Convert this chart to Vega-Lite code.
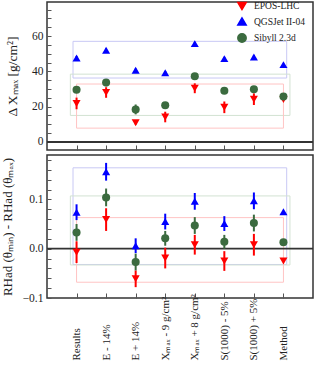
{
  "$schema": "https://vega.github.io/schema/vega-lite/v6.json",
  "padding": {"left": 0, "top": 0, "right": 2, "bottom": 0},
  "background": "white",
  "config": {
    "font": "Liberation Serif",
    "view": {"stroke": "#333333", "strokeWidth": 1.5},
    "axis": {"labelFont": "Liberation Serif", "titleFont": "Liberation Serif", "labelColor": "#222", "titleColor": "#222", "titleFontWeight": "normal", "grid": false, "domain": false, "tickColor": "#555", "tickWidth": 1, "labelOverlap": false, "labelFlush": false},
    "legend": {"labelFont": "Liberation Serif"},
    "concat": {"spacing": 1}
  },
  "datasets": {
    "top": [
      {"c": 0, "m": "EPOS-LHC", "v": 21.8, "e": 3.3},
      {"c": 1, "m": "EPOS-LHC", "v": 28.0, "e": 3.0},
      {"c": 2, "m": "EPOS-LHC", "v": 10.8, "e": 1.0},
      {"c": 3, "m": "EPOS-LHC", "v": 14.1, "e": 3.0},
      {"c": 4, "m": "EPOS-LHC", "v": 30.4, "e": 2.8},
      {"c": 5, "m": "EPOS-LHC", "v": 19.6, "e": 3.3},
      {"c": 6, "m": "EPOS-LHC", "v": 24.2, "e": 3.3},
      {"c": 7, "m": "EPOS-LHC", "v": 24.0, "e": 0},
      {"c": 0, "m": "QGSJet II-04", "v": 47.6, "e": 1.0},
      {"c": 1, "m": "QGSJet II-04", "v": 52.0, "e": 1.0},
      {"c": 2, "m": "QGSJet II-04", "v": 40.6, "e": 1.0},
      {"c": 3, "m": "QGSJet II-04", "v": 39.2, "e": 1.0},
      {"c": 4, "m": "QGSJet II-04", "v": 55.7, "e": 1.0},
      {"c": 5, "m": "QGSJet II-04", "v": 47.2, "e": 1.0},
      {"c": 6, "m": "QGSJet II-04", "v": 48.1, "e": 1.0},
      {"c": 7, "m": "QGSJet II-04", "v": 43.8, "e": 0},
      {"c": 0, "m": "Sibyll 2.3d", "v": 29.6, "e": 1.0},
      {"c": 1, "m": "Sibyll 2.3d", "v": 33.6, "e": 1.5},
      {"c": 2, "m": "Sibyll 2.3d", "v": 18.4, "e": 2.8},
      {"c": 3, "m": "Sibyll 2.3d", "v": 20.8, "e": 1.0},
      {"c": 4, "m": "Sibyll 2.3d", "v": 37.2, "e": 1.0},
      {"c": 5, "m": "Sibyll 2.3d", "v": 29.0, "e": 1.0},
      {"c": 6, "m": "Sibyll 2.3d", "v": 29.8, "e": 1.0},
      {"c": 7, "m": "Sibyll 2.3d", "v": 25.7, "e": 0}
    ],
    "bot": [
      {"c": 0, "m": "EPOS-LHC", "v": -0.007, "e": 0.022},
      {"c": 1, "m": "EPOS-LHC", "v": 0.059, "e": 0.023},
      {"c": 2, "m": "EPOS-LHC", "v": -0.061, "e": 0.017},
      {"c": 3, "m": "EPOS-LHC", "v": -0.019, "e": 0.021},
      {"c": 4, "m": "EPOS-LHC", "v": 0.008, "e": 0.02},
      {"c": 5, "m": "EPOS-LHC", "v": -0.025, "e": 0.02},
      {"c": 6, "m": "EPOS-LHC", "v": 0.008, "e": 0.022},
      {"c": 7, "m": "EPOS-LHC", "v": -0.025, "e": 0},
      {"c": 0, "m": "QGSJet II-04", "v": 0.074, "e": 0.016},
      {"c": 1, "m": "QGSJet II-04", "v": 0.156, "e": 0.018},
      {"c": 2, "m": "QGSJet II-04", "v": 0.006, "e": 0.015},
      {"c": 3, "m": "QGSJet II-04", "v": 0.055, "e": 0.016},
      {"c": 4, "m": "QGSJet II-04", "v": 0.096, "e": 0.017},
      {"c": 5, "m": "QGSJet II-04", "v": 0.051, "e": 0.015},
      {"c": 6, "m": "QGSJet II-04", "v": 0.097, "e": 0.017},
      {"c": 7, "m": "QGSJet II-04", "v": 0.075, "e": 0},
      {"c": 0, "m": "Sibyll 2.3d", "v": 0.033, "e": 0.017},
      {"c": 1, "m": "Sibyll 2.3d", "v": 0.104, "e": 0.018},
      {"c": 2, "m": "Sibyll 2.3d", "v": -0.027, "e": 0.017},
      {"c": 3, "m": "Sibyll 2.3d", "v": 0.021, "e": 0.015},
      {"c": 4, "m": "Sibyll 2.3d", "v": 0.047, "e": 0.017},
      {"c": 5, "m": "Sibyll 2.3d", "v": 0.014, "e": 0.014},
      {"c": 6, "m": "Sibyll 2.3d", "v": 0.052, "e": 0.017},
      {"c": 7, "m": "Sibyll 2.3d", "v": 0.013, "e": 0}
    ],
    "topBox": [
      {"m": "QGSJet II-04", "x0": -0.12, "x1": 7.11, "y0": 36.2, "y1": 57.0},
      {"m": "Sibyll 2.3d", "x0": -0.21, "x1": 7.22, "y0": 15.0, "y1": 38.4},
      {"m": "EPOS-LHC", "x0": 0, "x1": 7.0, "y0": 7.8, "y1": 32.8}
    ],
    "botBox": [
      {"m": "QGSJet II-04", "x0": -0.12, "x1": 7.11, "y0": -0.032, "y1": 0.164},
      {"m": "Sibyll 2.3d", "x0": -0.21, "x1": 7.22, "y0": -0.033, "y1": 0.107},
      {"m": "EPOS-LHC", "x0": 0, "x1": 7.0, "y0": -0.068, "y1": 0.063}
    ],
    "zero": [{"z": 0}]
  },
  "resolve": {"legend": {"color": "independent", "shape": "independent"}},
  "vconcat": [
    {
      "width": 266,
      "height": 148,
      "layer": [
        {
          "data": {"name": "topBox"},
          "mark": {"type": "rect", "filled": false, "strokeWidth": 1},
          "encoding": {
            "x": {"field": "x0", "type": "quantitative", "title": null, "scale": {"domain": [-0.88, 7.85]}, "axis": {"values": [0,1,2,3,4,5,6,7], "labels": false, "tickSize": -5, "ticks": true, "labelOverlap": false}},
            "x2": {"field": "x1"},
            "y": {"field": "y0", "type": "quantitative", "title": "Δ Xₘₐₓ [g/cm²]", "scale": {"domain": [-4.6, 79.3], "nice": false}, "axis": {"values": [0,5,10,15,20,25,30,35,40,45,50,55,60,65,70,75], "labelExpr": "datum.value % 20 == 0 ? datum.label : ''", "tickSize": -4, "ticks": true, "labelPadding": 8, "labelFontSize": 11.5, "titleFontSize": 13.5, "titlePadding": 12, "labelOverlap": false}},
            "y2": {"field": "y1"},
            "stroke": {"field": "m", "type": "nominal", "scale": {"domain": ["EPOS-LHC", "QGSJet II-04", "Sibyll 2.3d"], "range": ["#ffc4c4", "#c8c8f4", "#d2e2d2"]}, "legend": null}
          }
        },
        {
          "data": {"name": "zero"},
          "mark": {"type": "rule", "color": "#333333", "strokeWidth": 2},
          "encoding": {"y": {"field": "z", "type": "quantitative", "title": "Δ Xₘₐₓ [g/cm²]", "axis": {"values": [0,5,10,15,20,25,30,35,40,45,50,55,60,65,70,75], "labelExpr": "datum.value % 20 == 0 ? datum.label : ''", "tickSize": -4, "ticks": true, "labelPadding": 8, "labelFontSize": 11.5, "titleFontSize": 13.5, "titlePadding": 12, "labelOverlap": false}}}
        },
        {
          "data": {"name": "top"},
          "mark": {"type": "errorbar", "thickness": 2},
          "encoding": {
            "x": {"field": "c", "type": "quantitative", "title": null, "axis": {"values": [0,1,2,3,4,5,6,7], "labels": false, "tickSize": -5, "ticks": true, "labelOverlap": false}},
            "y": {"field": "v", "type": "quantitative", "title": "Δ Xₘₐₓ [g/cm²]", "axis": {"values": [0,5,10,15,20,25,30,35,40,45,50,55,60,65,70,75], "labelExpr": "datum.value % 20 == 0 ? datum.label : ''", "tickSize": -4, "ticks": true, "labelPadding": 8, "labelFontSize": 11.5, "titleFontSize": 13.5, "titlePadding": 12, "labelOverlap": false}},
            "yError": {"field": "e"},
            "color": {"field": "m", "type": "nominal", "scale": {"domain": ["EPOS-LHC", "QGSJet II-04", "Sibyll 2.3d"], "range": ["#ff0000", "#0000ff", "#3b6b3f"]}, "legend": {"title": null, "orient": "none", "legendX": 190, "legendY": -1, "labelFontSize": 9.5, "symbolSize": 70, "rowPadding": 1.5, "labelOffset": 7, "padding": 0, "labelColor": "#222"}}
          }
        },
        {
          "data": {"name": "top"},
          "mark": {"type": "point", "filled": true, "opacity": 1, "size": 65},
          "encoding": {
            "x": {"field": "c", "type": "quantitative", "title": null, "axis": {"values": [0,1,2,3,4,5,6,7], "labels": false, "tickSize": -5, "ticks": true, "labelOverlap": false}},
            "y": {"field": "v", "type": "quantitative", "title": "Δ Xₘₐₓ [g/cm²]", "axis": {"values": [0,5,10,15,20,25,30,35,40,45,50,55,60,65,70,75], "labelExpr": "datum.value % 20 == 0 ? datum.label : ''", "tickSize": -4, "ticks": true, "labelPadding": 8, "labelFontSize": 11.5, "titleFontSize": 13.5, "titlePadding": 12, "labelOverlap": false}},
            "color": {"field": "m", "type": "nominal", "scale": {"domain": ["EPOS-LHC", "QGSJet II-04", "Sibyll 2.3d"], "range": ["#ff0000", "#0000ff", "#3b6b3f"]}, "legend": {"title": null, "orient": "none", "legendX": 190, "legendY": -1, "labelFontSize": 9.5, "symbolSize": 70, "rowPadding": 1.5, "labelOffset": 7, "padding": 0, "labelColor": "#222"}},
            "shape": {"field": "m", "type": "nominal", "scale": {"domain": ["EPOS-LHC", "QGSJet II-04", "Sibyll 2.3d"], "range": ["triangle-down", "triangle-up", "circle"]}, "legend": {"title": null, "orient": "none", "legendX": 190, "legendY": -1, "labelFontSize": 9.5, "symbolSize": 70, "rowPadding": 1.5, "labelOffset": 7, "padding": 0, "labelColor": "#222"}}
          }
        }
      ]
    },
    {
      "width": 266,
      "height": 143,
      "layer": [
        {
          "data": {"name": "botBox"},
          "mark": {"type": "rect", "filled": false, "strokeWidth": 1},
          "encoding": {
            "x": {"field": "x0", "type": "quantitative", "title": null, "scale": {"domain": [-0.88, 7.85]}, "axis": {"values": [0,1,2,3,4,5,6,7], "labelExpr": "['Results','E - 14%','E + 14%','Xₘₐₓ - 9 g/cm²','Xₘₐₓ + 8 g/cm²','S(1000) - 5%','S(1000) + 5%','Method'][datum.value]", "labelAngle": 270, "labelAlign": "left", "labelBaseline": "middle", "labelPadding": 67, "labelFontSize": 11, "tickSize": -5, "ticks": true, "labelOverlap": false}},
            "x2": {"field": "x1"},
            "y": {"field": "y0", "type": "quantitative", "title": "RHad (θₘᵢₙ) - RHad (θₘₐₓ)", "scale": {"domain": [-0.1, 0.19], "nice": false, "zero": false}, "axis": {"values": [-0.1,-0.08,-0.06,-0.04,-0.02,0,0.02,0.04,0.06,0.08,0.1,0.12,0.14,0.16,0.18], "labelExpr": "abs(datum.value*10 - round(datum.value*10)) < 0.001 ? replace(format(datum.value, '.1f'), '-', '−') : ''", "tickSize": -4, "ticks": true, "labelPadding": 8, "labelFontSize": 11.5, "titleFontSize": 13, "titlePadding": 8, "labelOverlap": false}},
            "y2": {"field": "y1"},
            "stroke": {"field": "m", "type": "nominal", "scale": {"domain": ["EPOS-LHC", "QGSJet II-04", "Sibyll 2.3d"], "range": ["#ffc4c4", "#c8c8f4", "#d2e2d2"]}, "legend": null}
          }
        },
        {
          "data": {"name": "zero"},
          "mark": {"type": "rule", "color": "#333333", "strokeWidth": 1.8},
          "encoding": {"y": {"field": "z", "type": "quantitative", "title": "RHad (θₘᵢₙ) - RHad (θₘₐₓ)", "axis": {"values": [-0.1,-0.08,-0.06,-0.04,-0.02,0,0.02,0.04,0.06,0.08,0.1,0.12,0.14,0.16,0.18], "labelExpr": "abs(datum.value*10 - round(datum.value*10)) < 0.001 ? replace(format(datum.value, '.1f'), '-', '−') : ''", "tickSize": -4, "ticks": true, "labelPadding": 8, "labelFontSize": 11.5, "titleFontSize": 13, "titlePadding": 8, "labelOverlap": false}}}
        },
        {
          "data": {"name": "bot"},
          "mark": {"type": "errorbar", "thickness": 2},
          "encoding": {
            "x": {"field": "c", "type": "quantitative", "title": null, "axis": {"values": [0,1,2,3,4,5,6,7], "labelExpr": "['Results','E - 14%','E + 14%','Xₘₐₓ - 9 g/cm²','Xₘₐₓ + 8 g/cm²','S(1000) - 5%','S(1000) + 5%','Method'][datum.value]", "labelAngle": 270, "labelAlign": "left", "labelBaseline": "middle", "labelPadding": 67, "labelFontSize": 11, "tickSize": -5, "ticks": true, "labelOverlap": false}},
            "y": {"field": "v", "type": "quantitative", "title": "RHad (θₘᵢₙ) - RHad (θₘₐₓ)", "axis": {"values": [-0.1,-0.08,-0.06,-0.04,-0.02,0,0.02,0.04,0.06,0.08,0.1,0.12,0.14,0.16,0.18], "labelExpr": "abs(datum.value*10 - round(datum.value*10)) < 0.001 ? replace(format(datum.value, '.1f'), '-', '−') : ''", "tickSize": -4, "ticks": true, "labelPadding": 8, "labelFontSize": 11.5, "titleFontSize": 13, "titlePadding": 8, "labelOverlap": false}},
            "yError": {"field": "e"},
            "color": {"field": "m", "type": "nominal", "scale": {"domain": ["EPOS-LHC", "QGSJet II-04", "Sibyll 2.3d"], "range": ["#ff0000", "#0000ff", "#3b6b3f"]}, "legend": null}
          }
        },
        {
          "data": {"name": "bot"},
          "mark": {"type": "point", "filled": true, "opacity": 1, "size": 65},
          "encoding": {
            "x": {"field": "c", "type": "quantitative", "title": null, "axis": {"values": [0,1,2,3,4,5,6,7], "labelExpr": "['Results','E - 14%','E + 14%','Xₘₐₓ - 9 g/cm²','Xₘₐₓ + 8 g/cm²','S(1000) - 5%','S(1000) + 5%','Method'][datum.value]", "labelAngle": 270, "labelAlign": "left", "labelBaseline": "middle", "labelPadding": 67, "labelFontSize": 11, "tickSize": -5, "ticks": true, "labelOverlap": false}},
            "y": {"field": "v", "type": "quantitative", "title": "RHad (θₘᵢₙ) - RHad (θₘₐₓ)", "axis": {"values": [-0.1,-0.08,-0.06,-0.04,-0.02,0,0.02,0.04,0.06,0.08,0.1,0.12,0.14,0.16,0.18], "labelExpr": "abs(datum.value*10 - round(datum.value*10)) < 0.001 ? replace(format(datum.value, '.1f'), '-', '−') : ''", "tickSize": -4, "ticks": true, "labelPadding": 8, "labelFontSize": 11.5, "titleFontSize": 13, "titlePadding": 8, "labelOverlap": false}},
            "color": {"field": "m", "type": "nominal", "scale": {"domain": ["EPOS-LHC", "QGSJet II-04", "Sibyll 2.3d"], "range": ["#ff0000", "#0000ff", "#3b6b3f"]}, "legend": null},
            "shape": {"field": "m", "type": "nominal", "scale": {"domain": ["EPOS-LHC", "QGSJet II-04", "Sibyll 2.3d"], "range": ["triangle-down", "triangle-up", "circle"]}, "legend": null}
          }
        }
      ]
    }
  ]
}
